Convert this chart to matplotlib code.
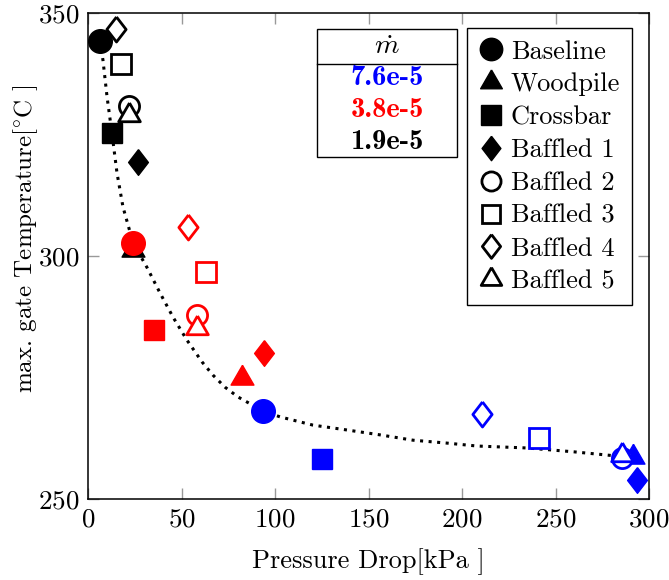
import matplotlib
matplotlib.use("Agg")
import matplotlib.pyplot as plt
from matplotlib.lines import Line2D
from matplotlib.patches import Rectangle

plt.rcParams['font.family'] = ['cmr10', 'DejaVu Serif']
plt.rcParams['mathtext.fontset'] = 'cm'
plt.rcParams['axes.formatter.use_mathtext'] = True

# geometries, in legend order
geoms = ['Baseline', 'Woodpile', 'Crossbar', 'Baffled 1', 'Baffled 2',
         'Baffled 3', 'Baffled 4', 'Baffled 5']

# pressure drop [kPa] and max gate temperature [C], one pair per mass flow
dp_19 = [6.4, 24.3, 12.8, 26.7, 21.9, 17.6, 15.0, 21.9]
T_19 = [344.2, 301.2, 325.3, 319.3, 330.9, 339.5, 346.7, 329.0]
dp_38 = [24.1, 82.4, 35.3, 94.1, 58.3, 63.1, 53.5, 58.3]
T_38 = [302.7, 274.9, 284.8, 280.0, 287.9, 296.7, 306.0, 285.2]
dp_76 = [93.6, 291.4, 125.1, 293.6, 285.4, 241.2, 210.7, 285.6]
T_76 = [268.1, 258.6, 258.2, 253.9, 258.4, 262.6, 267.5, 259.1]

mdot_labels = ['7.6e-5', '3.8e-5', '1.9e-5']
mdot_colors = ['blue', 'red', 'black']

# trend line
trend_dp = [6.4, 8.0, 10.2, 12.8, 15.5, 18.7, 24.1, 31.6, 38.5, 45.5, 52.9,
            61.0, 66.8, 73.3, 80.2, 93.6, 102.7, 120.3, 138.5, 156.1, 173.8,
            192.0, 208.0, 234.8, 260.0, 284.0]
trend_T = [344.2, 340.3, 332.7, 325.3, 317.1, 310.1, 302.7, 297.6, 292.4,
           287.4, 282.7, 278.2, 275.5, 273.0, 271.0, 268.1, 266.9, 265.2,
           264.2, 263.2, 262.1, 261.5, 260.9, 260.5, 259.7, 258.8]

diamond = [(0, 1), (0.77, 0), (0, -1), (-0.77, 0), (0, 1)]
triangle = [(0, 1), (-0.866, -0.5), (0.866, -0.5), (0, 1)]
# marker, size, filled
styles = [('o', 17, True), (triangle, 19, True), ('s', 15, True),
          (diamond, 18.5, True), ('o', 14.5, False), ('s', 14, False),
          (diamond, 18, False), (triangle, 18, False)]

fig = plt.figure(figsize=(6.69, 5.8), dpi=100)
ax = fig.add_axes([88 / 669, 1 - 499 / 580, 561 / 669, 486 / 580])

ax.plot(trend_dp, trend_T, color='black', lw=2.2, ls=(0, (1, 1.8)), zorder=1)

for dps, Ts, col in [(dp_19, T_19, 'black'), (dp_38, T_38, 'red'),
                     (dp_76, T_76, 'blue')]:
    for i in range(len(geoms)):
        m, ms, filled = styles[i]
        ax.plot(dps[i], Ts[i], ls='none', marker=m, ms=ms,
                mfc=col if filled else 'white', mec=col,
                mew=1 if filled else 2, zorder=3)

ax.set_xlim(0, 300)
ax.set_ylim(250, 350)
ax.set_xticks([0, 50, 100, 150, 200, 250, 300])
ax.set_yticks([250, 300, 350])
ax.tick_params(direction='in', length=8, width=1, color='#999999',
               top=True, right=True, labelsize=19.5, pad=6)
for s in ax.spines.values():
    s.set_linewidth(1.1)
ax.set_xlabel('Pressure Drop[kPa ]', fontsize=19)
ax.set_ylabel(r'max. gate Temperature[$^{\circ}$C ]', fontsize=18)
ax.xaxis.set_label_coords(0.5, -0.101)
ax.yaxis.set_label_coords(-0.086, 0.535)

handles = []
for i in range(len(geoms)):
    m, ms, filled = styles[i]
    handles.append(Line2D([], [], ls='none', marker=m, ms=ms * 0.95,
                          mec='black', mfc='black' if filled else 'white',
                          mew=1 if filled else 2))
leg = fig.legend(handles, geoms, loc='upper right',
                 bbox_to_anchor=(632 / 669, 1 - 28 / 580), fontsize=19,
                 frameon=True, fancybox=False, framealpha=1, edgecolor='black',
                 borderaxespad=0, labelspacing=0.345, handletextpad=0.3,
                 handlelength=0.9, borderpad=0.45)
leg.get_frame().set_linewidth(1.0)

# mass-flow table
W, H = 669, 580
fig.patches.append(Rectangle((317 / W, 1 - 157 / H), 140 / W, 128 / H,
                             transform=fig.transFigure, fill=False,
                             ec='black', lw=1.0))
fig.add_artist(Line2D([317 / W, 457 / W], [1 - 64 / H, 1 - 64 / H],
                      transform=fig.transFigure, color='black', lw=1.0))
fig.text(387 / W, 1 - 47 / H, r'$\dot{m}$', fontsize=20,
         ha='center', va='center')
for j, lab in enumerate(mdot_labels):
    fig.text(387 / W, 1 - (78 + 32 * j) / H, lab, fontsize=20.5,
             family='cmb10', color=mdot_colors[j], ha='center', va='center')

fig.savefig('out.png', dpi=100)
